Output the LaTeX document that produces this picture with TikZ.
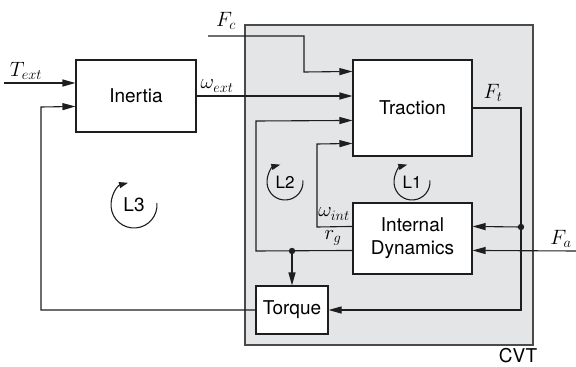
\documentclass[tikz,border=0pt]{standalone}
\usepackage{fontspec}
\setsansfont{TeX Gyre Heros}
\usetikzlibrary{arrows.meta,calc}
\definecolor{cvtgray}{HTML}{E4E5E7}
\definecolor{edgegray}{HTML}{4A4A4A}
\definecolor{ink}{HTML}{1E1E1E}
\begin{document}
\begin{tikzpicture}[x=1pt,y=-1pt,line width=1.1pt,draw=ink,
  blk/.style={draw=ink,fill=white,inner sep=0pt,align=center,
    font=\sffamily\fontsize{19}{23}\selectfont},
  lbl/.style={inner sep=0pt,font=\fontsize{22}{24}\selectfont},
  looplbl/.style={inner sep=0pt,font=\sffamily\fontsize{17}{20}\selectfont},
  sig/.style={draw=ink,-{Triangle[length=13pt,width=7pt]}},
  loopar/.style={draw=ink,-{Triangle[length=9pt,width=6pt]}},
  dot/.style={fill=ink}]
\useasboundingbox (0,0) rectangle (576,367);
% CVT frame
\node[draw=edgegray,fill=cvtgray,minimum width=288pt,minimum height=320pt,inner sep=0pt] (cvt) at (389,185) {};
% blocks
\node[blk,minimum width=120pt,minimum height=72pt] (inertia) at (136,96) {Inertia};
\node[blk,minimum width=119pt,minimum height=96pt] (traction) at (412.5,108) {Traction};
\node[blk,minimum width=119pt,minimum height=71pt] (id) at (412.5,238.5) {Internal\\Dynamics};
\node[blk,minimum width=72pt,minimum height=48pt] (torque) at (292,310) {Torque};
% free ends and corners
\coordinate (tin) at (4,83);
\coordinate (fc) at (208,36);
\coordinate (fa) at (576,251);
\coordinate (jrg) at (292,251);
\coordinate (jft) at (521,227);
% T_ext
\draw[sig] (tin) -- (tin -| inertia.west);
\node[lbl] (tl) at (26,71) {$T_{ext}$};
% omega_ext
\draw[sig] (inertia.east) -- (traction.west |- inertia.east);
\node[lbl] (wl) at (217,86) {$\omega_{ext}$};
% F_c
\draw[sig] (fc) -- (304,36) -- (304,72) -- ($(traction.north west)+(0,12)$);
\node[lbl] (fcl) at (226,21) {$F_c$};
% r_g feedback (L2)
\draw[sig] ($(id.north west)+(0,48)$) -- (256,251) -- (256,121) -- ($(traction.north west)+(0,61)$);
\fill[dot] (jrg) circle[radius=3.2];
\draw[sig] (jrg) -- (torque.north);
\node[lbl] (rgl) at (333,238) {$r_g$};
% omega_int (L1)
\draw[sig] ($(id.north west)+(0,24)$) -- (317,227) -- (317,144) -- ($(traction.north west)+(0,84)$);
\node[lbl] (wil) at (334,214) {$\omega_{int}$};
% F_t
\draw[sig] (traction.east) -- (521,108) -- (521,310) -- (torque.east);
\node[lbl] (ftl) at (493,93) {$F_t$};
\fill[dot] (jft) circle[radius=3.2];
\draw[sig] (jft) -- ($(id.north east)+(0,24)$);
% F_a
\draw[sig] (fa) -- ($(id.north east)+(0,48)$);
\node[lbl] (fal) at (561,239) {$F_a$};
% torque back to inertia (L3)
\draw[sig] (torque.west) -- (41,310) -- (41,107) -- ($(inertia.north west)+(0,47)$);
% loop markers
\node[looplbl] (l1) at (412,182) {L1};
\draw[loopar] ($(l1)+(-5:18)$) arc[start angle=-5,end angle=255,radius=18];
\node[looplbl] (l2) at (285,182) {L2};
\draw[loopar] ($(l2)+(-5:18)$) arc[start angle=-5,end angle=255,radius=18];
\node[looplbl,font=\sffamily\fontsize{19}{22}\selectfont] (l3) at (134,205) {L3};
\draw[loopar] ($(l3)+(-5:23)$) arc[start angle=-5,end angle=255,radius=23];
% CVT label
\node[inner sep=0pt,anchor=base,font=\sffamily\fontsize{19}{22}\selectfont] (cvtl) at (518,362) {CVT};
\end{tikzpicture}
\end{document}
